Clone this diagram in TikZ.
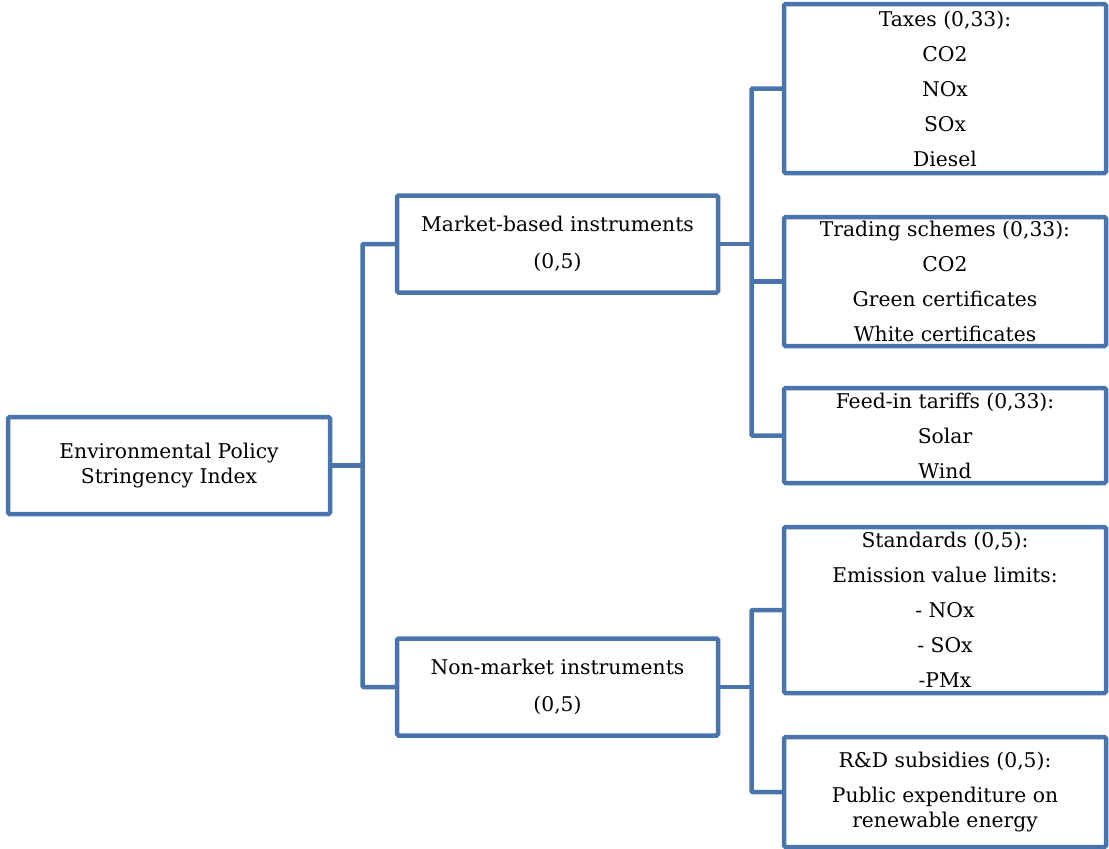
\documentclass[tikz,border=0pt]{standalone}
\usepackage{fontspec}
\setmainfont{DejaVu Serif}
\definecolor{boxblue}{RGB}{74,116,172}
\begin{document}
\begin{tikzpicture}[x=1pt,y=-1pt,
  box/.style={draw=boxblue, line width=4.5pt, rounded corners=1.5pt, rectangle,
    inner sep=0pt, align=center, text=black},
  wide/.style={minimum width=322pt},
  conn/.style={draw=boxblue, line width=4.5pt, rounded corners=1pt},
  listfont/.style={font=\fontsize{20.3}{35}\selectfont},
  twofont/.style={font=\fontsize{20.3}{25}\selectfont},
  midfont/.style={font=\fontsize{20.3}{37}\selectfont}]
\useasboundingbox (0,0) rectangle (1109,849);
% level 0
\node[box, twofont, minimum width=322pt, minimum height=97pt] (root) at (169,465.5)
  {Environmental Policy\\Stringency Index};
% level 1
\node[box, midfont, minimum width=321pt, minimum height=97pt] (mkt) at (557.5,244)
  {Market-based instruments\\(0,5)};
\node[box, midfont, minimum width=321pt, minimum height=97pt] (nmk) at (557.5,687)
  {Non-market instruments\\(0,5)};
% level 2
\node[box, listfont, wide, minimum height=169pt] (tax) at (945,88.5)
  {Taxes (0,33):\\CO2\\NOx\\SOx\\Diesel};
\node[box, listfont, wide, minimum height=129pt] (trd) at (945,281.5)
  {Trading schemes (0,33):\\CO2\\Green certificates\\White certificates};
\node[box, listfont, wide, minimum height=95pt] (fit) at (945,435.5)
  {Feed-in tariffs (0,33):\\Solar\\Wind};
\node[box, listfont, wide, minimum height=166pt] (std) at (945,610)
  {Standards (0,5):\\Emission value limits:\\- NOx\\- SOx\\-PMx};
\node[box, twofont, wide, minimum height=110pt] (rnd) at (945,792)
  {R\&D subsidies (0,5):\\[10pt]Public expenditure on\\renewable energy};
% bus coordinates
\coordinate (b1) at (362.5,0);
\coordinate (b2) at (751.5,0);
% connectors
\draw[conn] (root.east) -- (root.east -| b1);
\draw[conn] (mkt.west) -- (mkt.west -| b1) -- (nmk.west -| b1) -- (nmk.west);
\draw[conn] (mkt.east) -- (mkt.east -| b2);
\draw[conn] (tax.west) -- (tax.west -| b2) -- (fit.west -| b2) -- (fit.west);
\draw[conn] (trd.west) -- (trd.west -| b2);
\draw[conn] (nmk.east) -- (nmk.east -| b2);
\draw[conn] (std.west) -- (std.west -| b2) -- (rnd.west -| b2) -- (rnd.west);
\end{tikzpicture}
\end{document}
